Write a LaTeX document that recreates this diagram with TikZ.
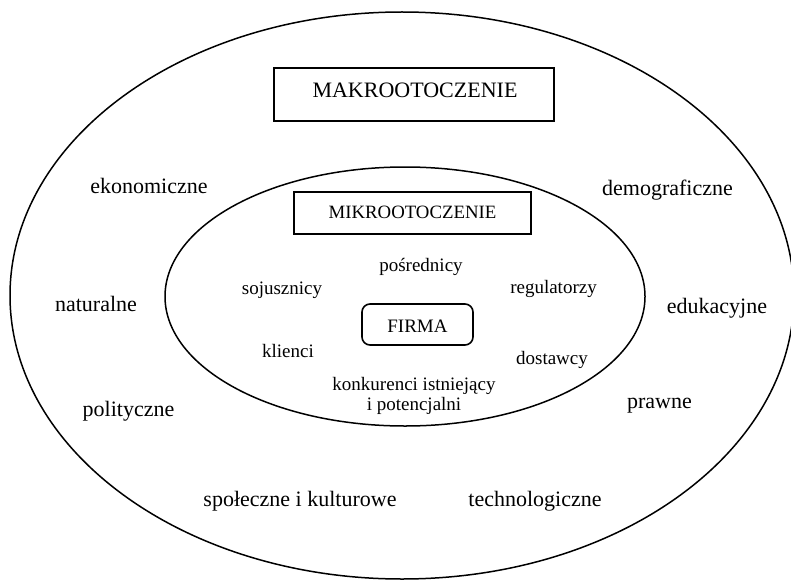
\documentclass[tikz,border=0pt]{standalone}
\usepackage{fontspec}
\setmainfont{Liberation Serif}
\begin{document}
\begin{tikzpicture}[x=1pt,y=-1pt,
  ring/.style={draw=black,line width=1.5pt},
  titlebox/.style={draw=black,line width=1.6pt,inner sep=0pt},
  outerlbl/.style={anchor=base,inner sep=0pt,font=\fontsize{22}{26}\selectfont},
  innerlbl/.style={anchor=base,inner sep=0pt,font=\fontsize{19}{22}\selectfont},
]
\useasboundingbox (0,0) rectangle (791,580);
\clip (0,0) rectangle (791,580);

% environment rings
\draw[ring] (402,295.5) ellipse [x radius=392pt, y radius=283.5pt];
\draw[ring] (405,296.5) ellipse [x radius=240pt, y radius=129.5pt];

% title boxes
\node[titlebox,minimum width=280pt,minimum height=53pt] (makro) at (414,94.5) {};
\node[anchor=base,inner sep=0pt,font=\fontsize{22}{26}\selectfont] (makrot) at (415,98) {MAKROOTOCZENIE};
\node[titlebox,minimum width=237pt,minimum height=42pt] (mikro) at (412.5,213) {};
\node[anchor=base,inner sep=0pt,font=\fontsize{18.8}{22}\selectfont] (mikrot) at (412.5,218.5) {MIKROOTOCZENIE};
\node[titlebox,rounded corners=8pt,minimum width=111pt,minimum height=41pt] (firma) at (417.5,324.5) {};
\node[innerlbl] (firmat) at (417.5,332) {FIRMA};

% macro-environment factors
\node[outerlbl] (ekon) at (149,193) {ekonomiczne};
\node[outerlbl] (demo) at (667.5,195) {demograficzne};
\node[outerlbl] (natu) at (96,311) {naturalne};
\node[outerlbl] (eduk) at (717,313) {edukacyjne};
\node[outerlbl] (poli) at (128.5,416) {polityczne};
\node[outerlbl] (praw) at (659.5,408) {prawne};
\node[outerlbl] (spol) at (300,506) {społeczne i kulturowe};
\node[outerlbl] (tech) at (535,506) {technologiczne};

% micro-environment actors
\node[innerlbl] (soju) at (282,294) {sojusznicy};
\node[innerlbl] (posr) at (421,271) {pośrednicy};
\node[innerlbl] (regu) at (553.5,293) {regulatorzy};
\node[innerlbl] (klie) at (288,357) {klienci};
\node[innerlbl] (dost) at (552,364) {dostawcy};
\node[innerlbl] (konk1) at (414,390) {konkurenci istniejący};
\node[innerlbl] (konk2) at (414,410) {i potencjalni};
\end{tikzpicture}
\end{document}
